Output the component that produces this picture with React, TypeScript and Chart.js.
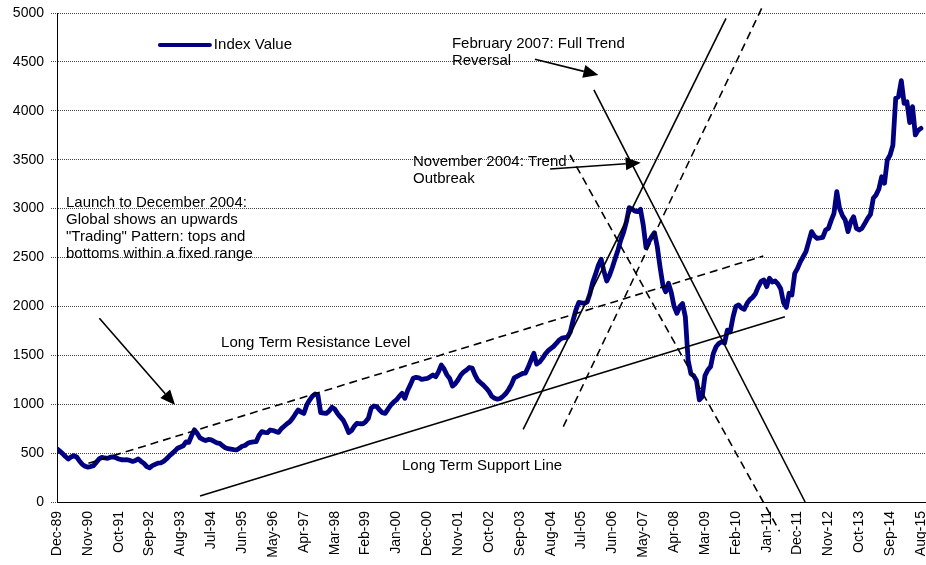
import React, { useEffect, useRef } from 'react';
import { Chart, registerables } from 'chart.js';

Chart.register(...registerables);

// ---- data ----
const tickLabels = ['Dec-89','Nov-90','Oct-91','Sep-92','Aug-93','Jul-94','Jun-95','May-96','Apr-97','Mar-98','Feb-99','Jan-00','Dec-00','Nov-01','Oct-02','Sep-03','Aug-04','Jul-05','Jun-06','May-07','Apr-08','Mar-09','Feb-10','Jan-11','Dec-11','Nov-12','Oct-13','Sep-14','Aug-15'];
const monthsPerTick = 11;

// monthly index values, Dec-89 .. Aug-15
const indexValues = [
  545, 520, 495, 465, 440, 460, 473, 460, 420, 385,
  365, 357, 362, 372, 405, 440, 456, 450, 446, 458,
  460, 452, 440, 432, 430, 432, 425, 415, 425, 440,
  415, 395, 362, 350, 372, 385, 398, 400, 415, 440,
  470, 495, 520, 550, 562, 575, 615, 610, 680, 738,
  700, 655, 640, 629, 640, 635, 619, 605, 600, 575,
  555, 545, 540, 535, 532, 550, 570, 578, 600, 610,
  615, 617, 680, 719, 712, 709, 736, 731, 720, 712,
  750, 775, 800, 820, 856, 900, 941, 920, 905, 990,
  1040, 1080, 1104, 1095, 913, 910, 906, 930, 968, 950,
  906, 870, 838, 780, 710, 730, 775, 805, 800, 798,
  820, 856, 960, 982, 975, 940, 913, 906, 950, 990,
  1020, 1043, 1080, 1111, 1060, 1140, 1200, 1265, 1275, 1270,
  1253, 1258, 1263, 1280, 1298, 1280, 1330, 1400, 1360, 1300,
  1263, 1185, 1210, 1250, 1300, 1330, 1349, 1375, 1370, 1300,
  1246, 1220, 1195, 1165, 1130, 1080, 1060, 1051, 1058, 1080,
  1109, 1150, 1200, 1270, 1285, 1300, 1314, 1318, 1380, 1450,
  1520, 1410, 1430, 1466, 1510, 1545, 1568, 1590, 1621, 1655,
  1675, 1680, 1685, 1740, 1860, 1963, 2040, 2035, 2030, 2046,
  2130, 2250, 2330, 2420, 2481, 2355, 2260, 2320, 2400, 2490,
  2577, 2680, 2760, 2866, 3010, 2995, 2975, 2970, 2993, 2832,
  2600, 2660, 2713, 2754, 2611, 2400, 2217, 2150, 2236, 2140,
  2000, 1929, 1997, 2030, 1895, 1450, 1310, 1290, 1240, 1045,
  1075, 1290, 1350, 1384, 1520, 1590, 1622, 1639, 1625, 1758,
  1740, 1890, 2000, 2014, 1985, 1970, 2030, 2070, 2093, 2130,
  2200, 2255, 2270, 2202, 2287, 2250, 2260, 2230, 2180, 2040,
  1990, 2134, 2117, 2338, 2389, 2457, 2508, 2560, 2662, 2764,
  2720, 2696, 2700, 2706, 2781, 2798, 2880, 2952, 3173, 3000,
  2930, 2883, 2764, 2866, 2917, 2798, 2781, 2800, 2849, 2900,
  2940, 3105, 3140, 3200, 3326, 3260, 3497, 3548, 3650, 4127,
  4145, 4308, 4076, 4093, 3879, 4042, 3753, 3800, 3820,
];

// trend lines (x = month index, y = index value)
const resistanceLine = [{ x: 11.2, y: 396 }, { x: 251.8, y: 2515 }];
const supportLine = [{ x: 51, y: 61 }, { x: 259.5, y: 1895 }];
const breakoutLine = [{ x: 166.2, y: 743 }, { x: 238.5, y: 4945 }];
const breakoutDashed = [{ x: 180.5, y: 770 }, { x: 251.2, y: 5048 }];
const reversalLine = [{ x: 191.4, y: 4213 }, { x: 266.7, y: 0 }];
const reversalDashed = [{ x: 182.9, y: 3548 }, { x: 257.6, y: -300 }];

// arrows: [tail, tip]
const arrows = [
  [{ x: 15.1, y: 1878 }, { x: 42.1, y: 992 }],
  [{ x: 170.4, y: 4527 }, { x: 193.0, y: 4366 }],
  [{ x: 175.8, y: 3405 }, { x: 208.1, y: 3469 }],
];

const notes = [
  { x: 3.2, y: 3057, lines: ['Launch to December 2004:', 'Global shows an upwards', '"Trading" Pattern: tops and', 'bottoms within a fixed range'] },
  { x: 140.8, y: 4683, lines: ['February 2007: Full Trend', 'Reversal'] },
  { x: 126.9, y: 3476, lines: ['November 2004: Trend', 'Outbreak'] },
  { x: 58.5, y: 1626, lines: ['Long Term Resistance Level'] },
  { x: 123, y: 368, lines: ['Long Term Support Line'] },
];

const legendAnchor = { x1: 36.7, x2: 54.5, y: 4673 };
const seriesName = 'Index Value';

const FONT = '"Liberation Sans", Arial, sans-serif';
const NAVY = '#000080';

const overlayPlugin = {
  id: 'overlay',
  afterDatasetsDraw(chart: any) {
    const { ctx } = chart;
    const xs = chart.scales.x;
    const ys = chart.scales.y;
    const px = (v: number) => xs.getPixelForValue(v);
    const py = (v: number) => ys.getPixelForValue(v);
    ctx.save();
    ctx.strokeStyle = '#000';
    ctx.fillStyle = '#000';
    ctx.lineWidth = 1.6;
    ctx.setLineDash([]);
    arrows.forEach(([a, b]) => {
      const x1 = px(a.x), y1 = py(a.y), x2 = px(b.x), y2 = py(b.y);
      const ang = Math.atan2(y2 - y1, x2 - x1);
      const L = 15, W = 6.5;
      const bx = x2 - L * Math.cos(ang), by = y2 - L * Math.sin(ang);
      ctx.beginPath();
      ctx.moveTo(x1, y1);
      ctx.lineTo(bx, by);
      ctx.stroke();
      ctx.beginPath();
      ctx.moveTo(x2, y2);
      ctx.lineTo(bx + W * Math.sin(ang), by - W * Math.cos(ang));
      ctx.lineTo(bx - W * Math.sin(ang), by + W * Math.cos(ang));
      ctx.closePath();
      ctx.fill();
    });
    ctx.font = '15px ' + FONT;
    ctx.textBaseline = 'middle';
    ctx.textAlign = 'left';
    notes.forEach((n) => {
      n.lines.forEach((t, i) => ctx.fillText(t, px(n.x), py(n.y) + i * 17));
    });
    // legend
    ctx.strokeStyle = NAVY;
    ctx.lineWidth = 4;
    ctx.lineCap = 'round';
    ctx.beginPath();
    ctx.moveTo(px(legendAnchor.x1), py(legendAnchor.y));
    ctx.lineTo(px(legendAnchor.x2), py(legendAnchor.y));
    ctx.stroke();
    ctx.fillStyle = '#000';
    ctx.fillText(seriesName, px(legendAnchor.x2) + 4, py(legendAnchor.y));
    ctx.restore();
  },
};

function trend(data: { x: number; y: number }[], dashed: boolean) {
  return {
    type: 'line' as const,
    data,
    borderColor: '#000',
    borderWidth: 1.6,
    borderDash: dashed ? [8, 5] : [],
    pointRadius: 0,
    fill: false,
    clip: false as any,
    order: 0,
  };
}

export default function App() {
  const ref = useRef<HTMLCanvasElement>(null);
  useEffect(() => {
    if (!ref.current) return;
    Chart.defaults.font.family = FONT;
    const chart = new Chart(ref.current, {
      type: 'line',
      data: {
        datasets: [
          trend(resistanceLine, true),
          trend(supportLine, false),
          trend(breakoutLine, false),
          trend(breakoutDashed, true),
          trend(reversalLine, false),
          trend(reversalDashed, true),
          {
            label: seriesName,
            data: indexValues.map((v, i) => ({ x: i, y: v })),
            borderColor: NAVY,
            borderWidth: 4.8,
            pointRadius: 0,
            borderJoinStyle: 'round',
            borderCapStyle: 'round',
            fill: false,
            order: 10,
          } as any,
        ],
      },
      options: {
        responsive: false,
        animation: false,
        devicePixelRatio: 1,
        events: [],
        layout: { padding: { top: 13, left: 0, right: 0, bottom: 0 } },
        plugins: { legend: { display: false }, tooltip: { enabled: false } },
        scales: {
          x: {
            type: 'linear',
            min: 0,
            max: 309.8,
            bounds: 'data',
            afterBuildTicks: (s: any) => {
              s.ticks = tickLabels.map((_, i) => ({ value: i * monthsPerTick }));
            },
            afterFit: (s: any) => {
              s.height = 63;
              s.paddingLeft = 0;
              s.paddingRight = 0;
            },
            grid: { display: false, drawTicks: false },
            border: { display: true, color: '#000', width: 1 },
            ticks: {
              autoSkip: false,
              maxRotation: 90,
              minRotation: 90,
              padding: 9,
              color: '#000',
              font: { size: 14, family: FONT },
              callback: (_v: any, i: number) => tickLabels[i],
            },
          } as any,
          y: {
            min: 0,
            max: 5000,
            afterFit: (s: any) => {
              s.width = 57;
              s.paddingTop = 0;
              s.paddingBottom = 0;
            },
            ticks: {
              stepSize: 500,
              padding: 7,
              color: '#000',
              font: { size: 14, family: FONT },
              callback: (v: any) => String(v),
            },
            grid: { color: '#444', lineWidth: 1, drawTicks: true, tickLength: 6, tickColor: '#444', tickBorderDash: [1, 1] },
            border: { display: true, color: '#000', width: 1, dash: [1, 1] },
          } as any,
        },
      },
      plugins: [overlayPlugin],
    });
    return () => chart.destroy();
  }, []);
  return (
    <div style={{ position: 'fixed', left: 0, top: 0, width: 926, height: 565, background: '#fff' }}>
      <canvas ref={ref} width={926} height={565} style={{ display: 'block', width: 926, height: 565 }} />
    </div>
  );
}
